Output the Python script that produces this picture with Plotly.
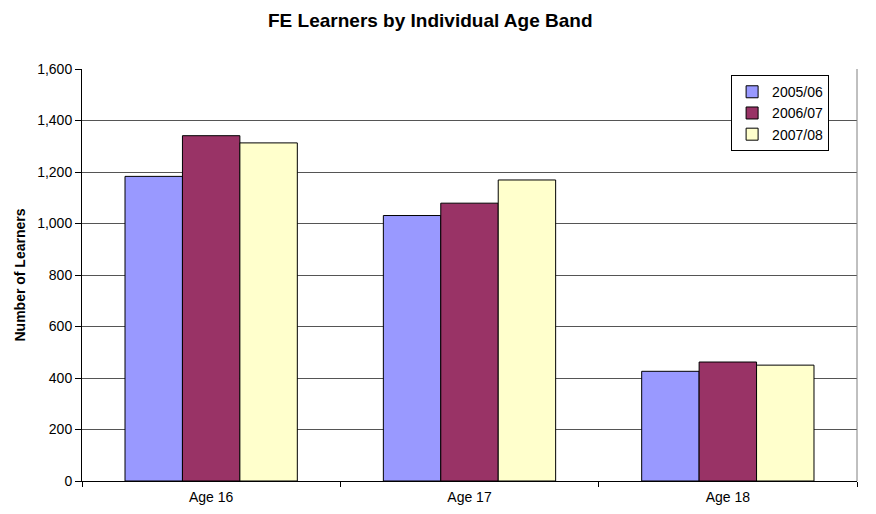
import plotly.graph_objects as go

categories = ["Age 16", "Age 17", "Age 18"]
series_names = ["2005/06", "2006/07", "2007/08"]
values_2005 = [1183, 1031, 426]
values_2006 = [1341, 1079, 462]
values_2007 = [1313, 1169, 450]
colors = ["#9999FF", "#993366", "#FFFFCC"]
y_ticks = [0, 200, 400, 600, 800, 1000, 1200, 1400, 1600]
y_tick_labels = ["0", "200", "400", "600", "800", "1,000", "1,200", "1,400", "1,600"]

fig = go.Figure()
for name, vals, col in zip(series_names, [values_2005, values_2006, values_2007], colors):
    fig.add_trace(go.Bar(
        x=categories, y=vals, name=name,
        marker=dict(color=col, line=dict(color="black", width=1)),
    ))

# page has an 8px body margin, so the figure is sized 860x498
fig.update_layout(
    width=860, height=498,
    paper_bgcolor="white", plot_bgcolor="white",
    margin=dict(l=74, r=11, t=61, b=25, autoexpand=False),
    barmode="group", bargap=0.333, bargroupgap=0,
    font=dict(family="Arial, Liberation Sans, sans-serif", size=14, color="black"),
    title=dict(text="<b>FE Learners by Individual Age Band</b>", x=0.491, xanchor="center",
               y=0.976, yanchor="middle", font=dict(size=19)),
    legend=dict(x=0.964, y=0.985, xanchor="right", yanchor="top",
                bordercolor="black", borderwidth=1, bgcolor="white",
                font=dict(size=14), itemwidth=30, tracegroupgap=0),
    xaxis=dict(showline=True, linecolor="black", linewidth=1, ticks="outside",
               tickson="boundaries", ticklen=5, tickcolor="black", showgrid=False,
               ticklabelstandoff=3, automargin=False),
    yaxis=dict(range=[0, 1600], tickvals=y_ticks, ticktext=y_tick_labels,
               showline=True, linecolor="black", linewidth=1, ticks="outside", ticklen=6,
               tickcolor="black", showgrid=True, gridcolor="#555555", gridwidth=1,
               title=dict(text="<b>Number of Learners</b>", font=dict(size=14), standoff=8),
               zeroline=False, automargin=False),
)
fig.add_shape(type="line", xref="paper", yref="paper", x0=1, x1=1, y0=0, y1=1,
              line=dict(color="#808080", width=1))

fig.write_html("out.html")
